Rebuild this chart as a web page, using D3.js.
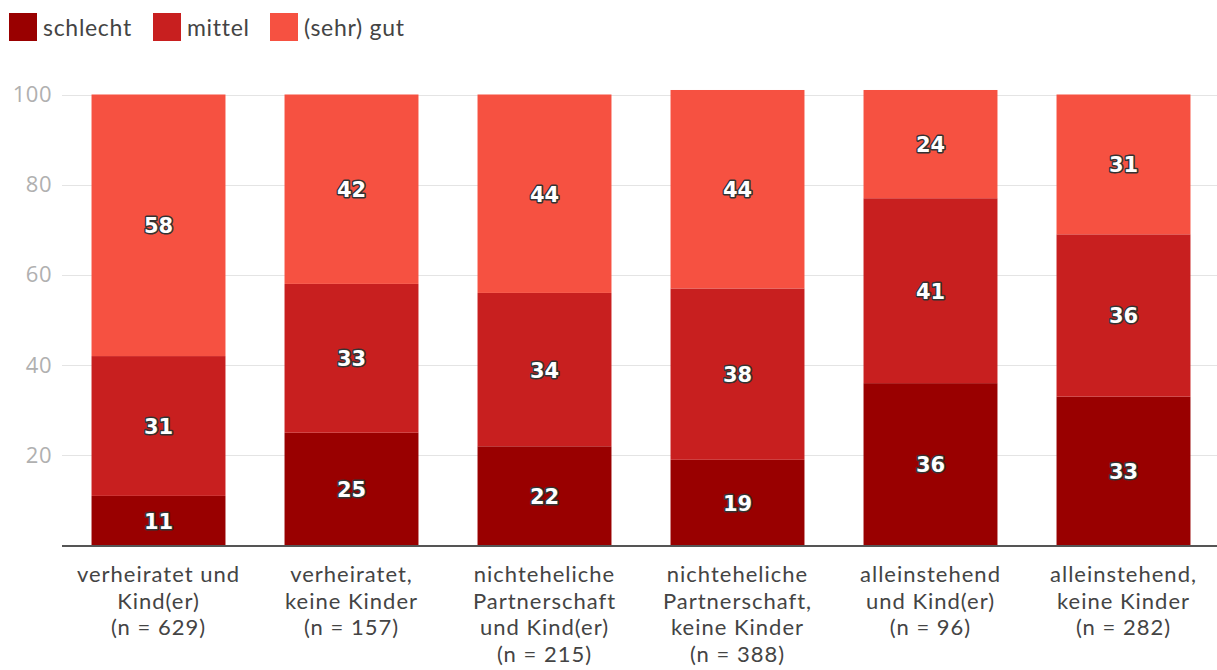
<!DOCTYPE html>
<html>
  <head>
    <meta charset="utf-8">
    <title>Gestapeltes Säulendiagramm</title>
    <style>
      body { margin: 0; background: #fff; }
      svg { display: block; font-family: Lato, "Open Sans", sans-serif; }
      .tick text { fill: #b0b0b0; font-size: 22px; letter-spacing: 0.5px; font-family: "Open Sans", sans-serif; }
      .grid line { stroke: #e4e4e4; }
      .barLabel {
        fill: #fff;
        font-family: "DejaVu Sans", sans-serif;
        font-weight: bold;
        font-size: 21px;
        text-anchor: middle;
        stroke: #333;
        stroke-width: 3px;
        paint-order: stroke;
        stroke-linejoin: round;
      }
      .catLabel { fill: #444; font-size: 22px; letter-spacing: 1px; text-anchor: middle; }
      .legendText { fill: #444; font-size: 23px; letter-spacing: 0.7px; }
    </style>
  </head>
  <body>
    <div class="container"></div>
    <script src="https://cdn.jsdelivr.net/npm/d3@7/dist/d3.min.js"></script>
    <script>
    var categories = [
      ["verheiratet und", "Kind(er)", "(n = 629)"],
      ["verheiratet,", "keine Kinder", "(n = 157)"],
      ["nichteheliche", "Partnerschaft", "und Kind(er)", "(n = 215)"],
      ["nichteheliche", "Partnerschaft,", "keine Kinder", "(n = 388)"],
      ["alleinstehend", "und Kind(er)", "(n = 96)"],
      ["alleinstehend,", "keine Kinder", "(n = 282)"]
    ];
    var seriesNames = ["schlecht", "mittel", "(sehr) gut"];
    var schlecht = [11, 25, 22, 19, 36, 33];
    var mittel = [31, 33, 34, 38, 41, 36];
    var gut = [58, 42, 44, 44, 24, 31];
    var yTicks = [20, 40, 60, 80, 100];
    var colors = ["#990000", "#c81f1f", "#f65141"];

    var width = 1217;
    var height = 670;

    var svg = d3.select(".container")
        .append("svg")
        .attr("width", width)
        .attr("height", height);

    // Daten für den Stapel
    var rows = categories.map(function(c, i) {
      return { idx: i, s0: schlecht[i], s1: mittel[i], s2: gut[i] };
    });
    var stack = d3.stack().keys(["s0", "s1", "s2"]);
    var layers = stack(rows);

    var x = d3.scaleBand()
        .domain(d3.range(categories.length))
        .range([62, 1220])
        .paddingInner(0.306)
        .paddingOuter(0.153);

    var y = d3.scaleLinear()
        .domain([0, 100])
        .range([545.5, 94.5]);

    // Gitterlinien
    svg.append("g")
        .attr("class", "grid")
        .selectAll("line")
        .data(yTicks)
        .enter()
        .append("line")
        .attr("x1", 62)
        .attr("x2", width)
        .attr("y1", function(d) { return Math.round(y(d)) + 0.5; })
        .attr("y2", function(d) { return Math.round(y(d)) + 0.5; });

    var yAxis = svg.append("g")
        .attr("transform", "translate(62,0)")
        .call(d3.axisLeft(y).tickValues(yTicks).tickSize(0).tickPadding(10));
    yAxis.select(".domain").remove();

    // Balken
    var groups = svg.selectAll(".layer")
        .data(layers)
        .enter()
        .append("g")
        .attr("class", "layer")
        .attr("fill", function(d, i) { return colors[i]; });

    groups.selectAll("rect")
        .data(function(d) { return d; })
        .enter()
        .append("rect")
        .attr("x", function(d) { return x(d.data.idx); })
        .attr("width", x.bandwidth())
        .attr("y", function(d) { return y(d[1]); })
        .attr("height", function(d) { return y(d[0]) - y(d[1]); });

    groups.selectAll("text")
        .data(function(d) { return d; })
        .enter()
        .append("text")
        .attr("class", "barLabel")
        .attr("x", function(d) { return x(d.data.idx) + x.bandwidth() / 2; })
        .attr("y", function(d) { return y((d[0] + d[1]) / 2); })
        .attr("dy", "0.38em")
        .text(function(d) { return d[1] - d[0]; });

    // x-Achse
    svg.append("line")
        .attr("x1", 62)
        .attr("x2", width)
        .attr("y1", 546)
        .attr("y2", 546)
        .attr("stroke", "#555")
        .attr("stroke-width", 2);

    var cat = svg.selectAll(".catLabel")
        .data(categories)
        .enter()
        .append("text")
        .attr("class", "catLabel")
        .attr("x", function(d, i) { return x(i) + x.bandwidth() / 2; })
        .attr("y", 582);

    cat.selectAll("tspan")
        .data(function(d) { return d; })
        .enter()
        .append("tspan")
        .attr("x", function() { return d3.select(this.parentNode).attr("x"); })
        .attr("dy", function(d, i) { return i === 0 ? 0 : 26.5; })
        .text(function(d) { return d; });

    // Legende
    var legendX = [9, 153, 270];
    var legend = svg.selectAll(".legend")
        .data(seriesNames)
        .enter()
        .append("g")
        .attr("class", "legend")
        .attr("transform", function(d, i) { return "translate(" + legendX[i] + ",13)"; });

    legend.append("rect")
        .attr("width", 28)
        .attr("height", 28)
        .attr("fill", function(d, i) { return colors[i]; });

    legend.append("text")
        .attr("class", "legendText")
        .attr("x", 34)
        .attr("y", 23)
        .text(function(d) { return d; });
    </script>
  </body>
</html>
